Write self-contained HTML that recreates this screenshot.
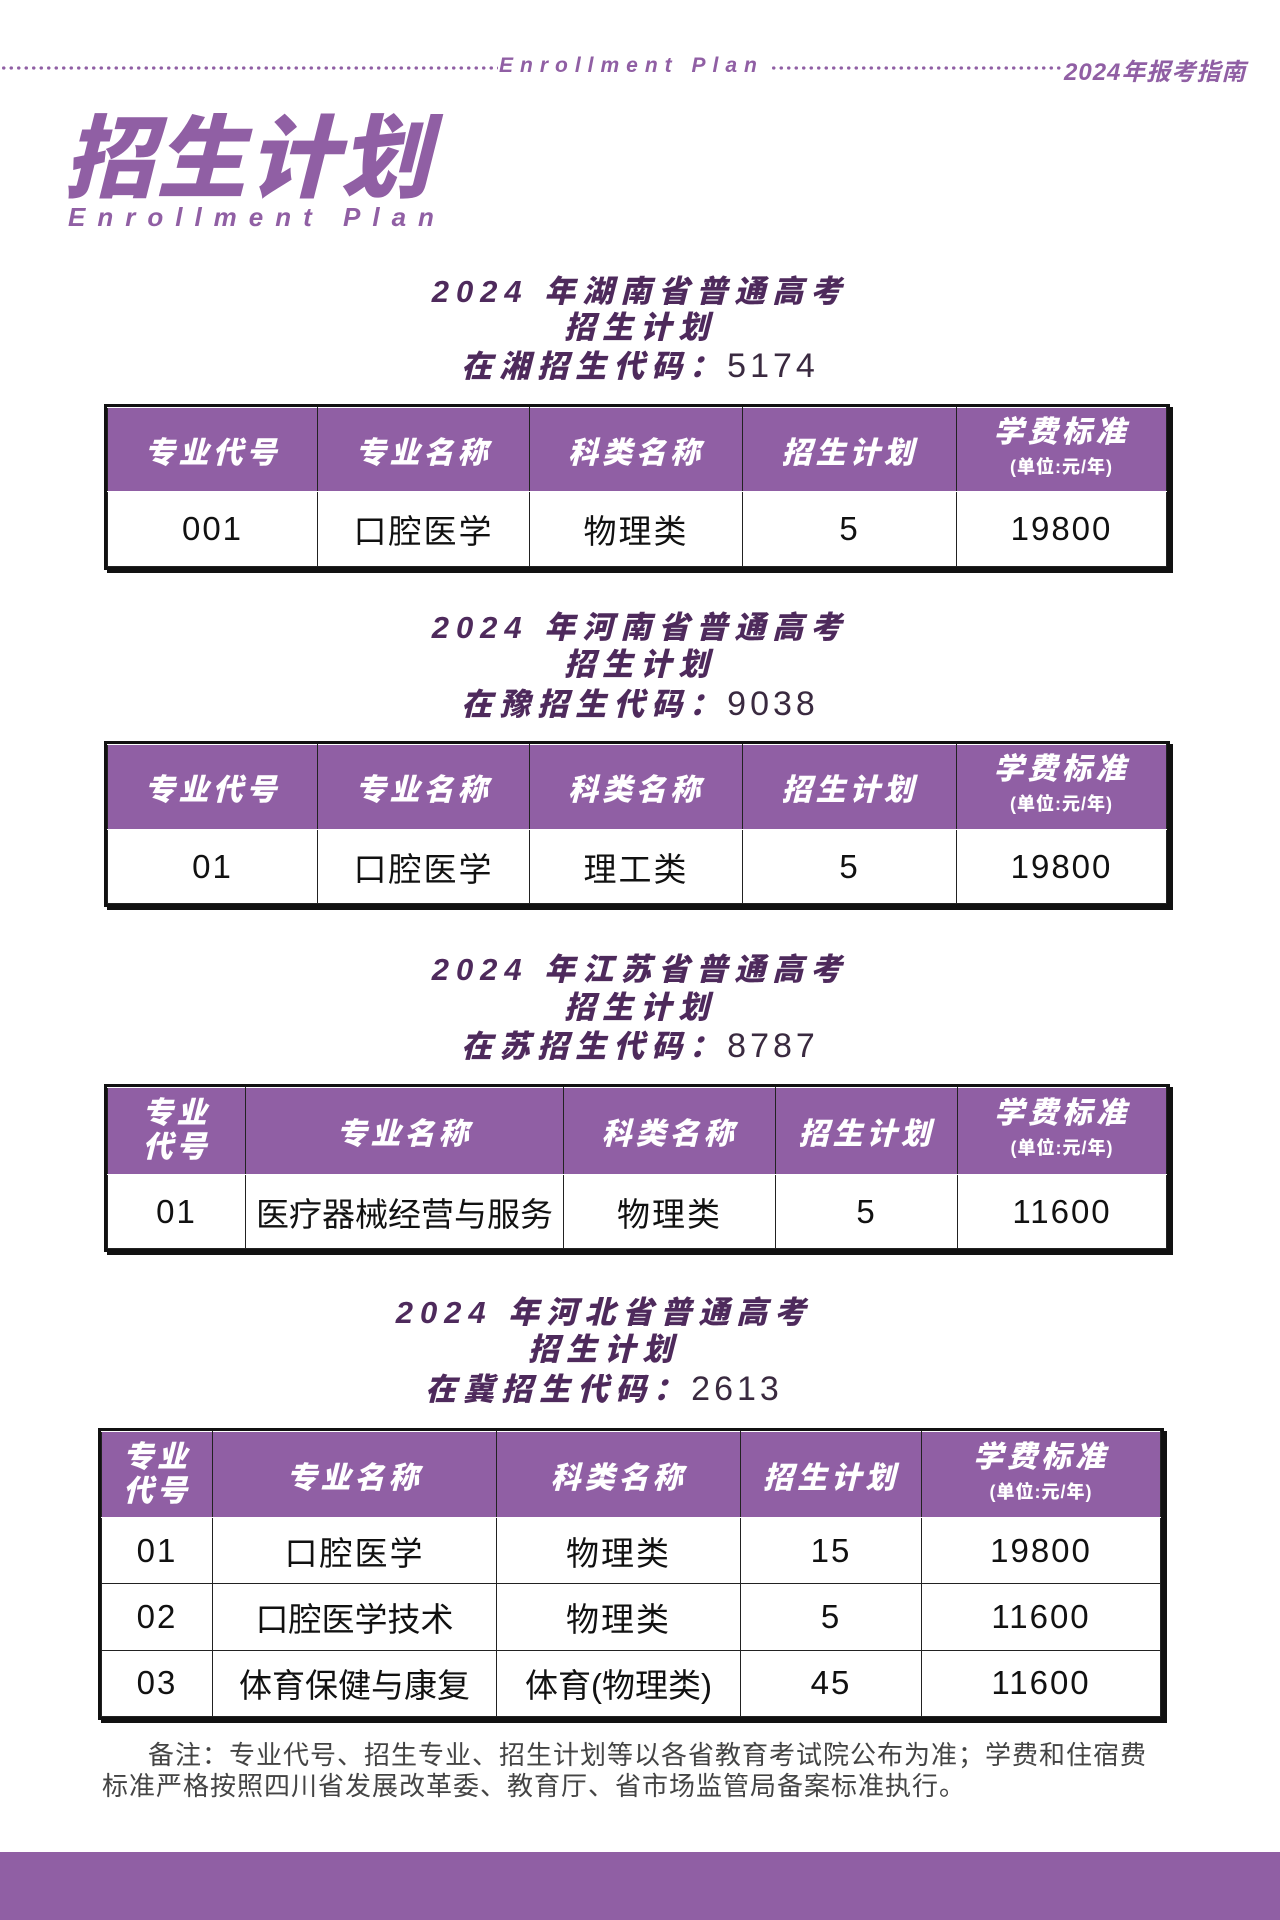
<!DOCTYPE html>
<html><head><meta charset="utf-8"><style>
*{margin:0;padding:0;box-sizing:border-box}
body{width:1280px;height:1920px;position:relative;background:#fff;font-family:"Liberation Sans","Noto Sans CJK SC",sans-serif;overflow:hidden}
.a{position:absolute}
.p{color:#905fa4}
.dots{position:absolute;top:66px;height:4px;background-image:radial-gradient(circle,#905fa4 1.6px,transparent 1.8px);background-size:7.5px 4px;background-repeat:repeat-x}
.hd{font-weight:bold;font-style:italic;color:#905fa4;font-size:21px;letter-spacing:7px;white-space:nowrap}
.tt{position:absolute;width:1280px;text-align:center;font-weight:900;font-style:italic;color:#4e2a5c;font-size:31px;letter-spacing:7px;line-height:36px}
.tt .n{font-style:normal;font-weight:normal;color:#3a2a40;letter-spacing:4px;font-size:34px}
.tb{position:absolute;border:3px solid #111;box-shadow:3px 3px 0 #111}
.tb table{border-collapse:collapse;width:100%;height:100%}
.tb td{border:1.5px solid #222;text-align:center;font-size:33px;color:#111;letter-spacing:2px}
.tb tr.h td{background:#905fa4;color:#fff;font-weight:900;font-style:italic;font-size:30px;letter-spacing:4px;border-color:#fff #222}
.tb tr.h td small{display:block;font-size:18px;letter-spacing:1px;font-style:normal}
.tb tr.h td.x{line-height:34px}
</style></head><body>
<div class="dots" style="left:0;width:498px"></div>
<div class="a hd" style="left:499px;top:54px">Enrollment Plan</div>
<div class="dots" style="left:770px;width:292px"></div>
<div class="a hd" style="left:1064px;top:52px;letter-spacing:1px;font-size:24px">2024年报考指南</div>
<div class="a p" style="left:64px;top:110px;font-size:90px;line-height:100px;font-weight:900;font-style:italic;letter-spacing:2px">招生计划</div>
<div class="a p" style="left:68px;top:202px;font-size:26px;font-weight:bold;font-style:italic;letter-spacing:12px">Enrollment Plan</div>

<div class="tt" style="top:274px;left:0">2024 年湖南省普通高考</div>
<div class="tt" style="top:310px;left:0">招生计划</div>
<div class="tt" style="top:348px;left:0">在湘招生代码：<span class="n">5174</span></div>
<div class="tb" style="left:104px;top:404px;width:1066px;height:166px"><table>
<tr class="h" style="height:84px"><td style="width:210px">专业代号</td><td style="width:212px">专业名称</td><td style="width:213px">科类名称</td><td style="width:214px">招生计划</td><td class="x">学费标准<small>(单位:元/年)</small></td></tr>
<tr><td>001</td><td>口腔医学</td><td>物理类</td><td>5</td><td>19800</td></tr></table></div>

<div class="tt" style="top:610px;left:0">2024 年河南省普通高考</div>
<div class="tt" style="top:647px;left:0">招生计划</div>
<div class="tt" style="top:686px;left:0">在豫招生代码：<span class="n">9038</span></div>
<div class="tb" style="left:104px;top:741px;width:1066px;height:166px"><table>
<tr class="h" style="height:85px"><td style="width:210px">专业代号</td><td style="width:212px">专业名称</td><td style="width:213px">科类名称</td><td style="width:214px">招生计划</td><td class="x">学费标准<small>(单位:元/年)</small></td></tr>
<tr><td>01</td><td>口腔医学</td><td>理工类</td><td>5</td><td>19800</td></tr></table></div>

<div class="tt" style="top:952px;left:0">2024 年江苏省普通高考</div>
<div class="tt" style="top:990px;left:0">招生计划</div>
<div class="tt" style="top:1028px;left:0">在苏招生代码：<span class="n">8787</span></div>
<div class="tb" style="left:104px;top:1084px;width:1066px;height:168px"><table>
<tr class="h" style="height:87px"><td class="x" style="width:138px">专业<br>代号</td><td style="width:318px">专业名称</td><td style="width:212px">科类名称</td><td style="width:182px">招生计划</td><td class="x">学费标准<small>(单位:元/年)</small></td></tr>
<tr><td>01</td><td style="letter-spacing:0">医疗器械经营与服务</td><td>物理类</td><td>5</td><td>11600</td></tr></table></div>

<div class="tt" style="top:1295px;left:-36px">2024 年河北省普通高考</div>
<div class="tt" style="top:1332px;left:-36px">招生计划</div>
<div class="tt" style="top:1371px;left:-36px">在冀招生代码：<span class="n">2613</span></div>
<div class="tb" style="left:98px;top:1428px;width:1066px;height:292px"><table>
<tr class="h" style="height:86px"><td class="x" style="width:111px">专业<br>代号</td><td style="width:284px">专业名称</td><td style="width:244px">科类名称</td><td style="width:181px">招生计划</td><td class="x">学费标准<small>(单位:元/年)</small></td></tr>
<tr><td>01</td><td>口腔医学</td><td>物理类</td><td>15</td><td>19800</td></tr>
<tr><td>02</td><td style="letter-spacing:0">口腔医学技术</td><td>物理类</td><td>5</td><td>11600</td></tr>
<tr><td>03</td><td style="letter-spacing:0">体育保健与康复</td><td style="letter-spacing:0">体育(物理类)</td><td>45</td><td>11600</td></tr></table></div>

<div class="a" style="left:102px;top:1740px;width:1062px;font-size:26px;line-height:31px;color:#444;text-indent:46px;letter-spacing:1px">备注：专业代号、招生专业、招生计划等以各省教育考试院公布为准；学费和住宿费<br>标准严格按照四川省发展改革委、教育厅、省市场监管局备案标准执行。</div>
<div class="a" style="left:0;top:1852px;width:1280px;height:68px;background:#905fa4"></div>
</body></html>
